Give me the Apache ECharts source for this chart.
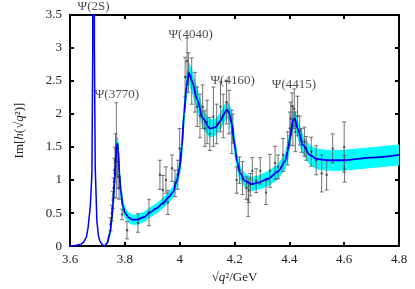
<!DOCTYPE html>
<html>
<head>
<meta charset="utf-8">
<script src="https://cdn.jsdelivr.net/npm/echarts@6/dist/echarts.min.js"></script>
<style>html,body{margin:0;padding:0;background:#fff}#c{width:415px;height:289px}</style>
</head>
<body>
<div id="c"></div>
<script>
// ---- data ----
const xTicks = [3.6, 3.8, 4.0, 4.2, 4.4, 4.6, 4.8];
const yTicks = [0, 0.5, 1, 1.5, 2, 2.5, 3, 3.5];

// psi(2S) narrow peak part of the fit curve
const curve2SX = [3.600, 3.620, 3.640, 3.650, 3.660, 3.666, 3.674, 3.680, 3.683, 3.685, 3.687, 3.689, 3.692, 3.698, 3.704, 3.709, 3.716, 3.724, 3.727];
const curve2SY = [0.00, 0.01, 0.03, 0.06, 0.14, 0.28, 0.60, 1.10, 3.0, 20, 20, 3.0, 1.2, 0.38, 0.15, 0.08, 0.03, 0.00, 0.00];

// main fit curve (with error band half-width)
const curveX = [3.727, 3.735, 3.746, 3.752, 3.757, 3.762, 3.766, 3.770, 3.773, 3.776, 3.780, 3.785, 3.792, 3.800, 3.812, 3.826, 3.844, 3.870, 3.892, 3.915, 3.939, 3.960, 3.976, 3.990, 4.000, 4.008, 4.016, 4.025, 4.034, 4.045, 4.063, 4.085, 4.110, 4.130, 4.150, 4.160, 4.172, 4.182, 4.190, 4.200, 4.209, 4.220, 4.238, 4.264, 4.286, 4.322, 4.359, 4.384, 4.395, 4.403, 4.413, 4.420, 4.430, 4.450, 4.475, 4.500, 4.537, 4.600, 4.700, 4.800];
const curveY = [0.00, 0.04, 0.20, 0.40, 0.63, 0.95, 1.25, 1.50, 1.55, 1.45, 1.10, 0.85, 0.62, 0.51, 0.44, 0.40, 0.40, 0.44, 0.51, 0.57, 0.65, 0.74, 0.82, 1.00, 1.18, 1.50, 2.00, 2.42, 2.62, 2.50, 2.23, 1.93, 1.78, 1.80, 1.90, 1.99, 2.07, 2.00, 1.85, 1.55, 1.29, 1.11, 0.99, 0.94, 0.96, 1.02, 1.13, 1.28, 1.45, 1.65, 1.90, 1.93, 1.78, 1.53, 1.38, 1.32, 1.30, 1.30, 1.34, 1.38];
const bandHalf = [0.00, 0.01, 0.03, 0.05, 0.07, 0.08, 0.09, 0.10, 0.10, 0.10, 0.09, 0.08, 0.08, 0.07, 0.07, 0.07, 0.07, 0.07, 0.07, 0.07, 0.07, 0.08, 0.08, 0.09, 0.10, 0.11, 0.12, 0.14, 0.15, 0.15, 0.14, 0.13, 0.13, 0.12, 0.12, 0.12, 0.12, 0.12, 0.12, 0.11, 0.10, 0.10, 0.10, 0.10, 0.10, 0.11, 0.11, 0.11, 0.11, 0.11, 0.12, 0.12, 0.12, 0.13, 0.14, 0.15, 0.15, 0.15, 0.15, 0.15];

// measured points: x, value, error
const ptX = [3.748, 3.752, 3.756, 3.759, 3.762, 3.764, 3.766, 3.769, 3.772, 3.775, 3.779, 3.790, 3.808, 3.848, 3.888, 3.928, 3.939, 3.950, 3.957, 3.972, 3.983, 3.993, 4.000, 4.020, 4.027, 4.032, 4.044, 4.056, 4.064, 4.074, 4.084, 4.092, 4.100, 4.110, 4.123, 4.135, 4.149, 4.159, 4.171, 4.180, 4.190, 4.194, 4.208, 4.218, 4.229, 4.243, 4.250, 4.252, 4.258, 4.265, 4.279, 4.294, 4.315, 4.329, 4.348, 4.359, 4.377, 4.394, 4.402, 4.405, 4.410, 4.413, 4.418, 4.422, 4.430, 4.438, 4.445, 4.455, 4.462, 4.480, 4.498, 4.518, 4.536, 4.558, 4.600, 4.601];
const ptY = [0.33, 0.50, 0.70, 0.88, 1.15, 1.30, 1.48, 1.45, 1.28, 1.05, 0.88, 0.48, 0.24, 0.35, 0.51, 1.08, 0.85, 1.00, 0.66, 1.18, 0.95, 1.08, 1.48, 2.56, 2.80, 2.63, 2.50, 2.33, 2.11, 1.97, 2.11, 1.78, 1.88, 1.70, 1.96, 1.85, 2.11, 1.97, 2.18, 2.03, 1.73, 1.78, 1.00, 1.15, 1.03, 0.88, 0.70, 0.84, 0.93, 1.14, 0.99, 1.14, 0.81, 1.14, 1.26, 1.20, 1.38, 1.48, 1.78, 1.93, 2.12, 1.82, 2.08, 1.73, 1.97, 1.75, 1.60, 1.58, 1.48, 1.43, 1.30, 1.10, 1.08, 1.48, 1.50, 1.17];
const ptErr = [0.10, 0.12, 0.13, 0.15, 0.18, 0.20, 0.22, 0.72, 0.20, 0.18, 0.17, 0.08, 0.13, 0.14, 0.20, 0.22, 0.22, 0.20, 0.18, 0.20, 0.20, 0.22, 0.30, 0.30, 0.35, 0.30, 0.35, 0.30, 0.30, 0.33, 0.33, 0.27, 0.33, 0.25, 0.45, 0.30, 0.38, 0.33, 0.33, 0.33, 0.33, 0.22, 0.20, 0.20, 0.25, 0.17, 0.25, 0.18, 0.17, 0.20, 0.18, 0.20, 0.18, 0.25, 0.25, 0.18, 0.25, 0.25, 0.25, 0.25, 0.20, 0.30, 0.30, 0.30, 0.30, 0.22, 0.18, 0.22, 0.18, 0.22, 0.22, 0.28, 0.23, 0.22, 0.38, 0.20];

// resonance labels
const labelNames = ['Ψ(2S)', 'Ψ(3770)', 'Ψ(4040)', 'Ψ(4160)', 'Ψ(4415)'];
const labelX = [3.686, 3.771, 4.040, 4.193, 4.417];
const labelY = [3.62, 2.30, 3.20, 2.50, 2.44];

// ---- build options ----
const FONT = '"Liberation Serif", "DejaVu Serif", serif';
const curve2S = curve2SX.map((x, i) => [x, curve2SY[i]]);
const curve = curveX.map((x, i) => [x, curveY[i]]);
const points = ptX.map((x, i) => [x, ptY[i], ptErr[i]]);
const labels = labelX.map((x, i) => [x, labelY[i], labelNames[i]]);

function renderBand(params, api) {
  const up = curveX.map((x, i) => api.coord([x, curveY[i] + bandHalf[i]]));
  const lo = curveX.map((x, i) => api.coord([x, curveY[i] - bandHalf[i]])).reverse();
  return {
    type: 'polygon',
    shape: { points: up.concat(lo) },
    style: { fill: '#00ffff', stroke: '#00ffff', lineWidth: 1, lineJoin: 'round' },
    silent: true
  };
}

function renderErr(params, api) {
  const x = api.value(0), y = api.value(1), e = api.value(2);
  const t = api.coord([x, y + e]), b = api.coord([x, y - e]), c = api.coord([x, y]);
  const w = 2;
  const st = { stroke: 'rgba(90,90,90,0.85)', lineWidth: 1 };
  return {
    type: 'group',
    children: [
      { type: 'line', shape: { x1: t[0], y1: t[1], x2: b[0], y2: b[1] }, style: st },
      { type: 'line', shape: { x1: t[0] - w, y1: t[1], x2: t[0] + w, y2: t[1] }, style: st },
      { type: 'line', shape: { x1: b[0] - w, y1: b[1], x2: b[0] + w, y2: b[1] }, style: st },
      { type: 'circle', shape: { cx: c[0], cy: c[1], r: 1.2 }, style: { fill: 'rgba(70,70,70,0.9)' } }
    ]
  };
}

const axisCommon = {
  axisLine: { show: true, onZero: false, lineStyle: { color: '#000', width: 2 } },
  axisTick: { show: true, inside: true, length: 4, lineStyle: { color: '#000', width: 2 } },
  splitLine: { show: false }
};

const chart = echarts.init(document.getElementById('c'), null, { renderer: 'canvas' });
chart.setOption({
  animation: false,
  backgroundColor: '#fff',
  grid: { left: 70, right: 16, top: 15, bottom: 40 },
  xAxis: [
    Object.assign({
      type: 'value', min: xTicks[0], max: xTicks[xTicks.length - 1], interval: 0.2, position: 'bottom',
      axisLabel: { color: '#222', fontFamily: FONT, fontSize: 13, margin: 7 },
      name: '√{i|q}²/GeV', nameLocation: 'middle', nameGap: 22,
      nameTextStyle: { color: '#222', fontFamily: FONT, fontSize: 13, rich: { i: { fontStyle: 'italic', fontFamily: FONT, fontSize: 13, color: '#222' } } }
    }, axisCommon),
    Object.assign({
      type: 'value', min: xTicks[0], max: xTicks[xTicks.length - 1], interval: 0.2, position: 'top',
      axisLabel: { show: false }
    }, axisCommon)
  ],
  yAxis: [
    Object.assign({
      type: 'value', min: yTicks[0], max: yTicks[yTicks.length - 1], interval: 0.5, position: 'left',
      axisLabel: { color: '#222', fontFamily: FONT, fontSize: 13, margin: 8 },
      name: 'Im[{i|h}(√{i|q}²)]', nameLocation: 'middle', nameGap: 44, nameRotate: 90,
      nameTextStyle: { color: '#222', fontFamily: FONT, fontSize: 13, rich: { i: { fontStyle: 'italic', fontFamily: FONT, fontSize: 13, color: '#222' } } }
    }, axisCommon),
    Object.assign({
      type: 'value', min: yTicks[0], max: yTicks[yTicks.length - 1], interval: 0.5, position: 'right',
      axisLabel: { show: false }
    }, axisCommon)
  ],
  series: [
    { type: 'custom', data: [[curveX[0], curveY[0]]], renderItem: renderBand, clip: true, z: 1,
      encode: { x: 0, y: 1 }, silent: true },
    { type: 'custom', data: points, renderItem: renderErr, clip: true, z: 3,
      encode: { x: 0, y: 1 }, dimensions: ['x', 'y', 'err'] },
    { type: 'line', data: curve2S, symbol: 'none', clip: true, z: 4,
      lineStyle: { color: '#0000ff', width: 1.5 } },
    { type: 'line', data: curve, symbol: 'none', smooth: 0.3, smoothMonotone: 'x', clip: true, z: 4,
      lineStyle: { color: '#0000ee', width: 1.8 } },
    { type: 'scatter', data: labels, symbolSize: 0, clip: false, z: 5, silent: true,
      label: { show: true, position: 'inside', formatter: p => p.value[2],
        color: '#222', fontFamily: FONT, fontSize: 13 } }
  ]
});
</script>
</body>
</html>
